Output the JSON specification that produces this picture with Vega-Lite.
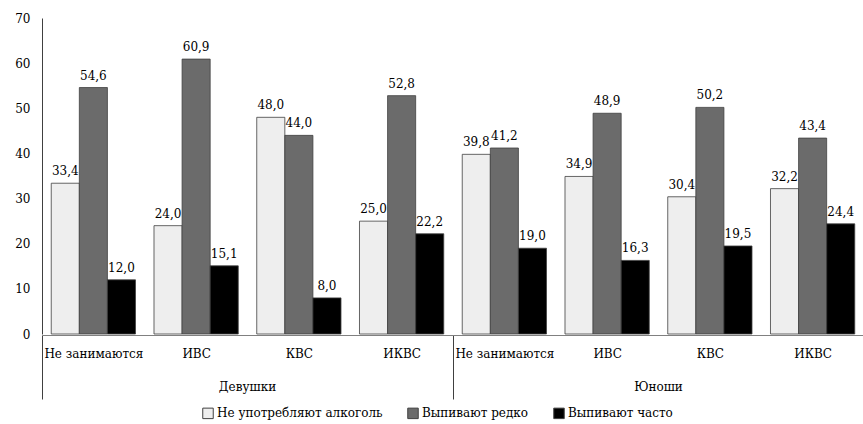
{
  "$schema": "https://vega.github.io/schema/vega-lite/v6.json",
  "padding": {"left": 14, "top": 12, "right": 0, "bottom": 2},
  "data": {
    "values": [
      {"group": "Девушки", "cat": "Не занимаются", "series": "Не употребляют алкоголь", "value": 33.4},
      {"group": "Девушки", "cat": "Не занимаются", "series": "Выпивают редко", "value": 54.6},
      {"group": "Девушки", "cat": "Не занимаются", "series": "Выпивают часто", "value": 12.0},
      {"group": "Девушки", "cat": "ИВС", "series": "Не употребляют алкоголь", "value": 24.0},
      {"group": "Девушки", "cat": "ИВС", "series": "Выпивают редко", "value": 60.9},
      {"group": "Девушки", "cat": "ИВС", "series": "Выпивают часто", "value": 15.1},
      {"group": "Девушки", "cat": "КВС", "series": "Не употребляют алкоголь", "value": 48.0},
      {"group": "Девушки", "cat": "КВС", "series": "Выпивают редко", "value": 44.0},
      {"group": "Девушки", "cat": "КВС", "series": "Выпивают часто", "value": 8.0},
      {"group": "Девушки", "cat": "ИКВС", "series": "Не употребляют алкоголь", "value": 25.0},
      {"group": "Девушки", "cat": "ИКВС", "series": "Выпивают редко", "value": 52.8},
      {"group": "Девушки", "cat": "ИКВС", "series": "Выпивают часто", "value": 22.2},
      {"group": "Юноши", "cat": "Не занимаются", "series": "Не употребляют алкоголь", "value": 39.8},
      {"group": "Юноши", "cat": "Не занимаются", "series": "Выпивают редко", "value": 41.2},
      {"group": "Юноши", "cat": "Не занимаются", "series": "Выпивают часто", "value": 19.0},
      {"group": "Юноши", "cat": "ИВС", "series": "Не употребляют алкоголь", "value": 34.9},
      {"group": "Юноши", "cat": "ИВС", "series": "Выпивают редко", "value": 48.9},
      {"group": "Юноши", "cat": "ИВС", "series": "Выпивают часто", "value": 16.3},
      {"group": "Юноши", "cat": "КВС", "series": "Не употребляют алкоголь", "value": 30.4},
      {"group": "Юноши", "cat": "КВС", "series": "Выпивают редко", "value": 50.2},
      {"group": "Юноши", "cat": "КВС", "series": "Выпивают часто", "value": 19.5},
      {"group": "Юноши", "cat": "ИКВС", "series": "Не употребляют алкоголь", "value": 32.2},
      {"group": "Юноши", "cat": "ИКВС", "series": "Выпивают редко", "value": 43.4},
      {"group": "Юноши", "cat": "ИКВС", "series": "Выпивают часто", "value": 24.4}
    ]
  },
  "spacing": 0,
  "facet": {
    "column": {
      "field": "group",
      "type": "nominal",
      "sort": ["Девушки", "Юноши"],
      "title": null,
      "header": {
        "labelOrient": "bottom",
        "labelFont": "DejaVu Serif",
        "labelFontSize": 12,
        "labelColor": "black",
        "labelPadding": -18
      }
    }
  },
  "spec": {
    "width": 411,
    "height": 316,
    "encoding": {
      "x": {
        "field": "cat",
        "type": "nominal",
        "sort": ["Не занимаются", "ИВС", "КВС", "ИКВС"],
        "scale": {"paddingInner": 0.18, "paddingOuter": 0.09},
        "axis": {
          "title": null,
          "labelAngle": 0,
          "labelOverlap": false,
          "tickSize": 64,
          "tickColor": "#404040",
          "tickOffset": -51.375,
          "labelOffset": 51.375,
          "tickOpacity": {"condition": {"test": "datum.value === 'Не занимаются'", "value": 1}, "value": 0},
          "labelPadding": -51,
          "domainColor": "#808080"
        }
      },
      "xOffset": {
        "field": "series",
        "sort": ["Не употребляют алкоголь", "Выпивают редко", "Выпивают часто"],
        "scale": {"paddingInner": 0}
      },
      "y": {
        "field": "value",
        "type": "quantitative",
        "scale": {"domain": [0, 70], "nice": false},
        "axis": {
          "title": null,
          "values": [0, 10, 20, 30, 40, 50, 60, 70],
          "ticks": false,
          "grid": false,
          "labelPadding": 12,
          "domainColor": "#404040"
        }
      }
    },
    "layer": [
      {
        "mark": {"type": "bar", "stroke": "#404040", "strokeWidth": 0.8},
        "encoding": {
          "color": {
            "field": "series",
            "type": "nominal",
            "scale": {
              "domain": ["Не употребляют алкоголь", "Выпивают редко", "Выпивают часто"],
              "range": ["#EEEEEE", "#6B6B6B", "#000000"]
            },
            "legend": {
              "title": null,
              "orient": "none",
              "direction": "horizontal",
              "legendX": 160,
              "legendY": 389,
              "symbolType": "square",
              "symbolSize": 110,
              "symbolStrokeColor": "#404040",
              "symbolStrokeWidth": 1,
              "symbolOpacity": 1,
              "labelFont": "DejaVu Serif",
              "labelFontSize": 12,
              "labelLimit": 0,
              "labelOffset": 3,
              "columnPadding": 22
            }
          }
        }
      },
      {
        "mark": {"type": "text", "baseline": "bottom", "dy": -5, "fontSize": 12, "color": "black", "font": "DejaVu Serif"},
        "encoding": {
          "text": {"field": "value", "type": "quantitative", "format": ".1f"}
        }
      }
    ]
  },
  "config": {
    "font": "DejaVu Serif",
    "locale": {"number": {"decimal": ",", "thousands": " ", "grouping": [3], "currency": ["", ""]}},
    "view": {"stroke": null},
    "axis": {"labelFont": "DejaVu Serif", "labelFontSize": 12, "labelColor": "black"},
    "legend": {"labelColor": "black"}
  }
}
